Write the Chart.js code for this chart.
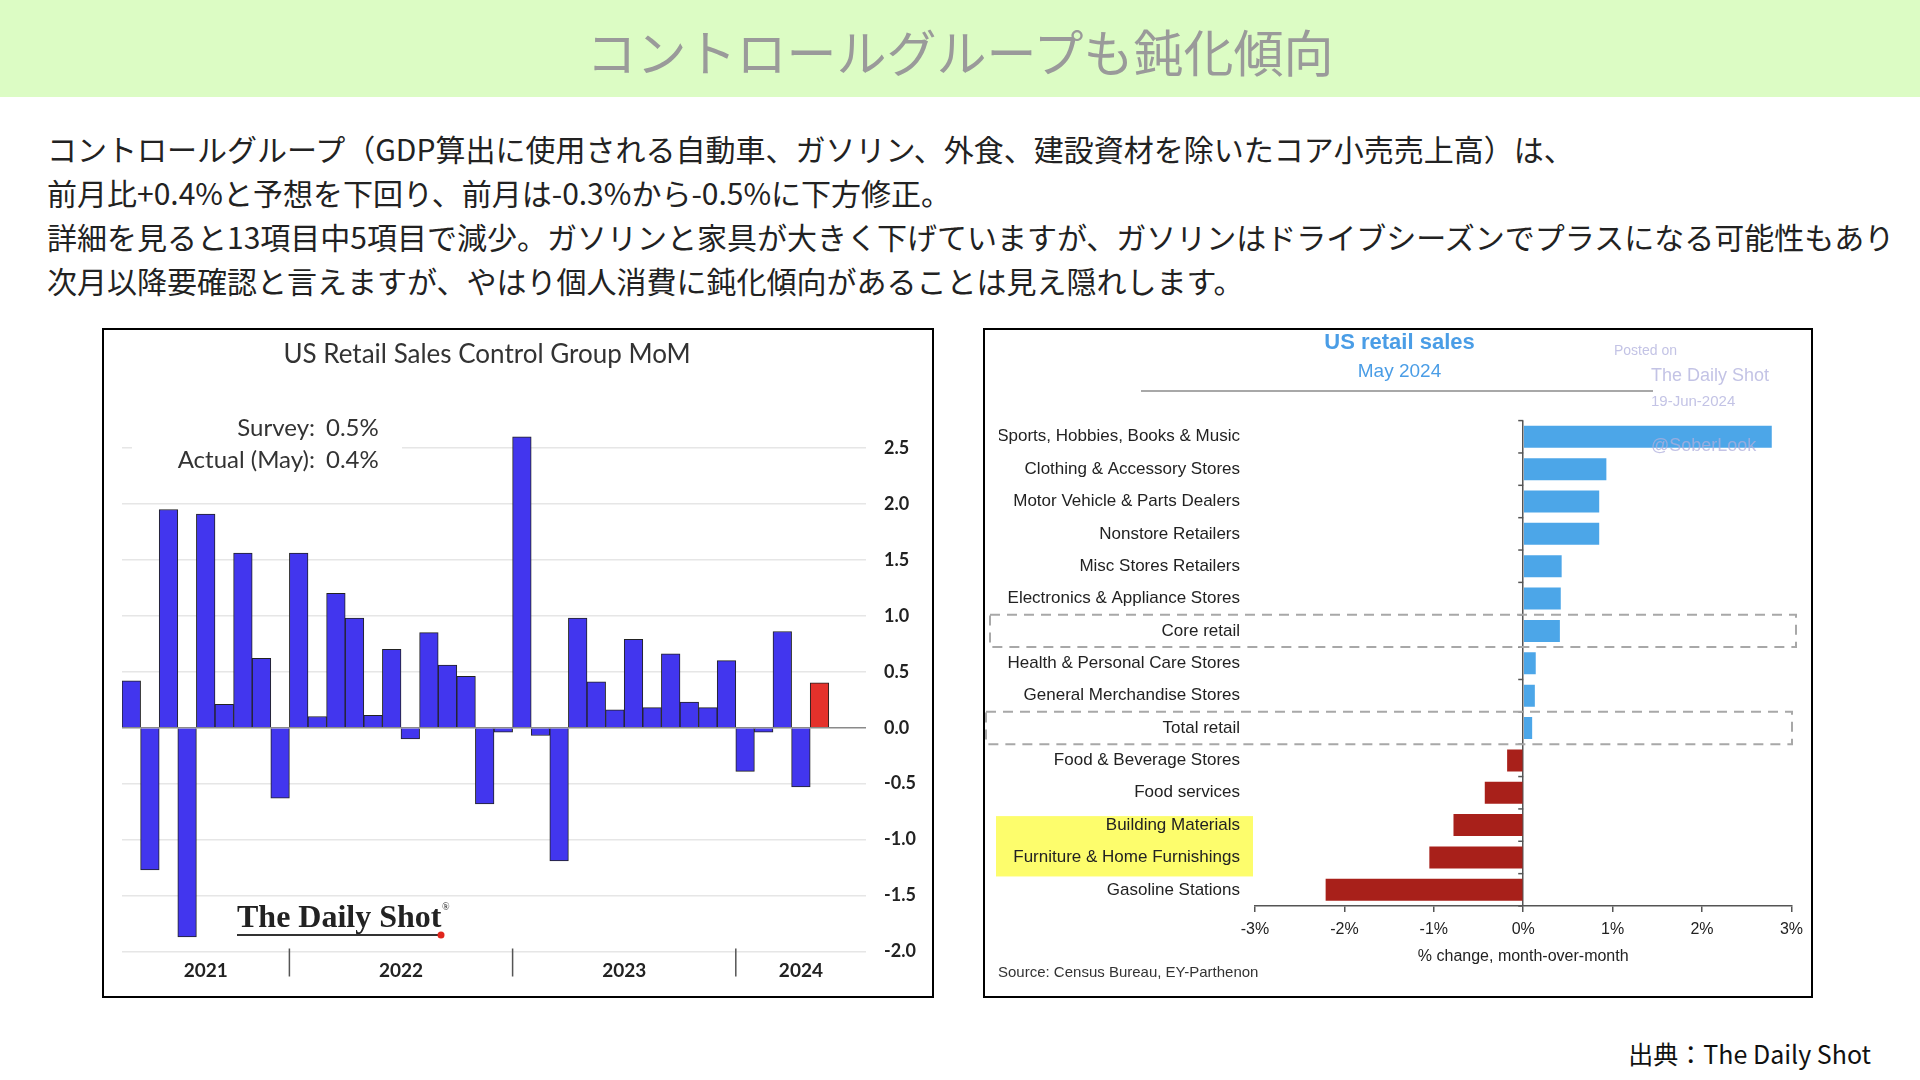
<!DOCTYPE html>
<html lang="ja">
<head>
    <meta charset="UTF-8">
    <title>コントロールグループも鈍化傾向</title>
    <script src="https://cdn.jsdelivr.net/npm/chart.js"></script>
    <style>
        body {
            margin: 0;
            width: 1920px;
            height: 1080px;
            position: relative;
            background: #fff;
            font-family: "Noto Sans CJK JP", sans-serif;
            overflow: hidden;
        }
        .header {
            position: absolute;
            left: 0; top: 0;
            width: 1920px; height: 97px;
            background: #dcfcc4;
            color: #9a9a9a;
            font-size: 50px;
            line-height: 100px;
            text-align: center;
        }
        .lead {
            position: absolute;
            left: 47px; top: 126px;
            font-size: 30px;
            line-height: 44px;
            color: #222;
            white-space: nowrap;
        }
        .box {
            position: absolute;
            top: 328px;
            height: 670px;
            border: 2px solid #000;
            box-sizing: border-box;
            background: #fff;
        }
        #leftBox { left: 102px; width: 832px; }
        #rightBox { left: 983px; width: 830px; }
        .source {
            position: absolute;
            right: 49px; top: 1035px;
            font-size: 25px;
            color: #111;
        }
    </style>
</head>
<body>
    <div class="header">コントロールグループも鈍化傾向</div>
    <div class="lead">
        コントロールグループ（GDP算出に使用される自動車、ガソリン、外食、建設資材を除いたコア小売売上高）は、<br>
        前月比+0.4%と予想を下回り、前月は-0.3%から-0.5%に下方修正。<br>
        詳細を見ると13項目中5項目で減少。ガソリンと家具が大きく下げていますが、ガソリンはドライブシーズンでプラスになる可能性もあり<br>
        次月以降要確認と言えますが、やはり個人消費に鈍化傾向があることは見え隠れします。
    </div>

    <div class="box" id="leftBox"><canvas id="controlChart"></canvas></div>
    <div class="box" id="rightBox"><canvas id="retailChart"></canvas></div>

    <div class="source">出典：The Daily Shot</div>

    <script>
        // Control group MoM, Apr 2021 - May 2024 (axis runs to Jul 2024)
        const months = [
            '2021-04', '2021-05', '2021-06', '2021-07', '2021-08', '2021-09', '2021-10', '2021-11', '2021-12',
            '2022-01', '2022-02', '2022-03', '2022-04', '2022-05', '2022-06', '2022-07', '2022-08', '2022-09',
            '2022-10', '2022-11', '2022-12',
            '2023-01', '2023-02', '2023-03', '2023-04', '2023-05', '2023-06', '2023-07', '2023-08', '2023-09',
            '2023-10', '2023-11', '2023-12',
            '2024-01', '2024-02', '2024-03', '2024-04', '2024-05', '2024-06', '2024-07'
        ];
        const controlMoM = [
            0.42, -1.27, 1.95, -1.87, 1.91, 0.21, 1.56, 0.62, -0.63,
            1.56, 0.10, 1.20, 0.98, 0.11, 0.70, -0.10, 0.85, 0.56,
            0.46, -0.68, -0.04,
            2.60, -0.07, -1.19, 0.98, 0.41, 0.16, 0.79, 0.18, 0.66,
            0.23, 0.18, 0.60,
            -0.39, -0.04, 0.86, -0.53, 0.40
        ];
        const years = ['2021', '2022', '2023', '2024'];
        const yearFirst = [0, 9, 21, 33];
        const yearLast = [8, 20, 32, 39];
        const controlTicks = [-2.0, -1.5, -1.0, -0.5, 0.0, 0.5, 1.0, 1.5, 2.0, 2.5];

        // US retail sales by category, May 2024, % MoM
        const categories = [
            'Sports, Hobbies, Books & Music', 'Clothing & Accessory Stores', 'Motor Vehicle & Parts Dealers',
            'Nonstore Retailers', 'Misc Stores Retailers', 'Electronics & Appliance Stores', 'Core retail',
            'Health & Personal Care Stores', 'General Merchandise Stores', 'Total retail',
            'Food & Beverage Stores', 'Food services', 'Building Materials',
            'Furniture & Home Furnishings', 'Gasoline Stations'
        ];
        const changeMoM = [2.78, 0.93, 0.85, 0.85, 0.43, 0.42, 0.41, 0.14, 0.13, 0.10, -0.18, -0.43, -0.78, -1.05, -2.21];
        const boxedRows = ['Core retail', 'Total retail'];
        const highlightedRows = ['Building Materials', 'Furniture & Home Furnishings'];

        const lato = 'Lato, "Open Sans", sans-serif';
        const arial = '"Liberation Sans", Arial, sans-serif';

        // Left chart: title, survey note, logo, year axis
        const controlDecor = {
            id: 'controlDecor',
            beforeDatasetsDraw(chart) {
                const ctx = chart.ctx;
                ctx.save();
                ctx.fillStyle = '#fff';
                ctx.fillRect(chart.chartArea.left + 10, 78, 270, 70);
                ctx.font = '24px ' + lato;
                ctx.fillStyle = '#333';
                ctx.textBaseline = 'middle';
                ctx.textAlign = 'right';
                ctx.fillText('Survey:', 211, 98);
                ctx.fillText('Actual (May):', 211, 130);
                ctx.textAlign = 'left';
                ctx.fillText('0.5%', 222, 98);
                ctx.fillText('0.4%', 222, 130);
                ctx.restore();
            },
            afterDraw(chart) {
                const ctx = chart.ctx;
                const x = chart.scales.x;
                const area = chart.chartArea;
                ctx.save();
                ctx.fillStyle = '#333';
                ctx.textAlign = 'center';
                ctx.textBaseline = 'middle';
                ctx.font = '26px ' + lato;
                ctx.fillText('US Retail Sales Control Group MoM', 383, 25);

                // year labels + separators
                ctx.font = 'bold 19px ' + lato;
                ctx.fillStyle = '#222';
                years.forEach((y, i) => {
                    const cx = (x.getPixelForValue(yearFirst[i]) + x.getPixelForValue(yearLast[i])) / 2;
                    ctx.fillText(y, cx, area.bottom + 19);
                    if (i > 0) {
                        const sx = (x.getPixelForValue(yearFirst[i] - 1) + x.getPixelForValue(yearFirst[i])) / 2;
                        ctx.strokeStyle = '#555';
                        ctx.lineWidth = 1.5;
                        ctx.beginPath();
                        ctx.moveTo(sx, area.bottom - 3);
                        ctx.lineTo(sx, area.bottom + 25);
                        ctx.stroke();
                    }
                });

                // logo
                ctx.textAlign = 'left';
                ctx.textBaseline = 'alphabetic';
                ctx.font = 'bold 32px "Liberation Serif", serif';
                ctx.fillStyle = '#222';
                ctx.fillText('The Daily Shot', 133, 597);
                ctx.font = '10px "Liberation Serif", serif';
                ctx.fillText('®', 338, 580);
                ctx.strokeStyle = '#333';
                ctx.lineWidth = 2;
                ctx.beginPath();
                ctx.moveTo(133, 605);
                ctx.lineTo(335, 605);
                ctx.stroke();
                ctx.fillStyle = '#e0251c';
                ctx.beginPath();
                ctx.arc(337, 605, 3.5, 0, Math.PI * 2);
                ctx.fill();
                ctx.restore();
            }
        };

        new Chart(document.getElementById('controlChart'), {
            type: 'bar',
            data: {
                labels: months,
                datasets: [{
                    data: controlMoM,
                    backgroundColor: controlMoM.map((v, i) => i === controlMoM.length - 1 ? '#e4312b' : '#4236ee'),
                    borderColor: '#222',
                    borderWidth: 1,
                    barPercentage: 1,
                    categoryPercentage: 1
                }]
            },
            options: {
                responsive: true,
                maintainAspectRatio: false,
                animation: false,
                layout: { padding: { left: 18, top: 90 } },
                plugins: { legend: { display: false }, tooltip: { enabled: false } },
                scales: {
                    x: {
                        grid: { display: false },
                        border: { display: false },
                        ticks: { display: false },
                        afterFit: s => { s.height = 44.5; }
                    },
                    y: {
                        position: 'right',
                        min: -2.0,
                        max: 2.75,
                        afterBuildTicks: s => { s.ticks = controlTicks.map(v => ({ value: v })); },
                        afterFit: s => { s.width = 66; },
                        border: { display: false },
                        grid: {
                            drawTicks: false,
                            lineWidth: 1.5,
                            color: c => c.tick && c.tick.value === 0 ? '#8a8a8a' : '#e6e6e6'
                        },
                        ticks: {
                            padding: 18,
                            color: '#222',
                            font: { family: lato, size: 18, weight: 'bold' },
                            callback: v => v.toFixed(1)
                        }
                    }
                }
            },
            plugins: [controlDecor]
        });

        // Right chart: highlight, dashed boxes, watermark, source
        const retailDecor = {
            id: 'retailDecor',
            beforeDraw(chart) {
                const y = chart.scales.y;
                const ctx = chart.ctx;
                const a = categories.indexOf(highlightedRows[0]);
                const b = categories.indexOf(highlightedRows[1]);
                ctx.save();
                ctx.fillStyle = '#fdfd6c';
                const top = y.getPixelForValue(a) - 9;
                const bottom = y.getPixelForValue(b) + 19;
                ctx.fillRect(11, top, 257, bottom - top);
                ctx.restore();
            },
            afterDraw(chart) {
                const ctx = chart.ctx;
                const x = chart.scales.x;
                const y = chart.scales.y;
                const rowH = y.getPixelForValue(1) - y.getPixelForValue(0);
                const zero = x.getPixelForValue(0);
                ctx.save();

                // category ticks on the zero line
                ctx.strokeStyle = '#555';
                ctx.lineWidth = 1.5;
                for (let i = 0; i <= categories.length; i++) {
                    const py = y.getPixelForValue(i) - rowH / 2;
                    ctx.beginPath();
                    ctx.moveTo(zero - 5, py);
                    ctx.lineTo(zero, py);
                    ctx.stroke();
                }

                // dashed boxes
                ctx.strokeStyle = '#a8a8a8';
                ctx.lineWidth = 2;
                ctx.setLineDash([10, 7]);
                boxedRows.forEach((name, k) => {
                    const i = categories.indexOf(name);
                    const top = y.getPixelForValue(i) - rowH / 2;
                    const left = k === 0 ? 5 : 1;
                    const right = k === 0 ? 811 : 807;
                    ctx.strokeRect(left, top, right - left, rowH);
                });
                ctx.setLineDash([]);

                // rule under title
                ctx.strokeStyle = '#a8a8a8';
                ctx.lineWidth = 2;
                ctx.beginPath();
                ctx.moveTo(156, 61);
                ctx.lineTo(668, 61);
                ctx.stroke();

                // watermark
                ctx.fillStyle = 'rgba(175, 175, 220, 0.75)';
                ctx.textAlign = 'left';
                ctx.textBaseline = 'middle';
                ctx.font = '14px ' + arial;
                ctx.fillText('Posted on', 629, 21);
                ctx.font = '18px ' + arial;
                ctx.fillText('The Daily Shot', 666, 46);
                ctx.font = '15px ' + arial;
                ctx.fillText('19-Jun-2024', 666, 72);
                ctx.font = '18px ' + arial;
                ctx.fillText('@SoberLook', 666, 116);

                // source
                ctx.fillStyle = '#333';
                ctx.font = '15px ' + arial;
                ctx.fillText('Source: Census Bureau, EY-Parthenon', 13, 643);
                ctx.restore();
            }
        };

        new Chart(document.getElementById('retailChart'), {
            type: 'bar',
            data: {
                labels: categories,
                datasets: [{
                    data: changeMoM,
                    backgroundColor: changeMoM.map(v => v >= 0 ? '#4ca6e8' : '#a8201a'),
                    barPercentage: 0.68,
                    categoryPercentage: 1
                }]
            },
            options: {
                indexAxis: 'y',
                responsive: true,
                maintainAspectRatio: false,
                animation: false,
                layout: { padding: { left: 14, right: 11, bottom: 30 } },
                plugins: {
                    legend: { display: false },
                    tooltip: { enabled: false },
                    title: {
                        display: true,
                        text: 'US retail sales',
                        color: '#4a9de6',
                        font: { family: arial, size: 22, weight: 'bold' },
                        padding: { top: 0, bottom: 2 }
                    },
                    subtitle: {
                        display: true,
                        text: 'May 2024',
                        color: '#4a9de6',
                        font: { family: arial, size: 19 },
                        padding: { top: 2, bottom: 37.4 }
                    }
                },
                scales: {
                    x: {
                        min: -3,
                        max: 3,
                        afterFit: s => { s.height = 60; },
                        border: { display: true, color: '#555', width: 1.5 },
                        grid: {
                            color: c => c.tick && c.tick.value === 0 ? '#555' : 'rgba(0,0,0,0)',
                            lineWidth: 1.5,
                            tickColor: '#555',
                            tickLength: 6
                        },
                        ticks: {
                            stepSize: 1,
                            padding: 8,
                            color: '#222',
                            font: { family: arial, size: 16 },
                            callback: v => v + '%'
                        },
                        title: {
                            display: true,
                            text: '% change, month-over-month',
                            color: '#222',
                            font: { family: arial, size: 16 },
                            padding: { top: 5, bottom: 0 }
                        }
                    },
                    y: {
                        afterFit: s => { s.width = 256; },
                        grid: { display: false },
                        border: { display: false },
                        ticks: {
                            padding: 7,
                            color: '#222',
                            font: { family: arial, size: 17 }
                        }
                    }
                }
            },
            plugins: [retailDecor]
        });
    </script>
</body>
</html>
